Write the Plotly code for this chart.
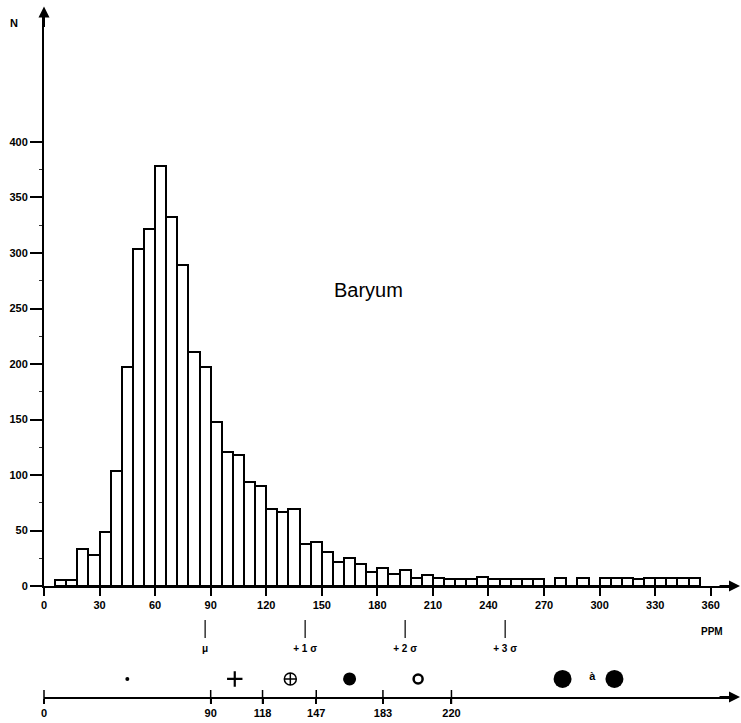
import plotly.graph_objects as go

# ---------------- data ----------------
bin_width = 6
bin_starts = [6, 12, 18, 24, 30, 36, 42, 48, 54, 60, 66, 72, 78, 84, 90, 96, 102, 108,
              114, 120, 126, 132, 138, 144, 150, 156, 162, 168, 174, 180, 186, 192, 198,
              204, 210, 216, 222, 228, 234, 240, 246, 252, 258, 264, 270, 276, 282, 288,
              294, 300, 306, 312, 318, 324, 330, 336, 342, 348]
counts = [5, 5, 33, 28, 49, 104, 197, 304, 322, 378, 332, 289, 211, 197, 148, 121, 118, 94,
          90, 69, 67, 69, 38, 40, 31, 22, 25, 20, 13, 16, 11, 14, 7,
          10, 7, 6, 6, 6, 8, 6, 6, 6, 6, 6, 0, 7, 0, 7,
          0, 7, 7, 7, 6, 7, 7, 7, 7, 7]

x_ticks = [0, 30, 60, 90, 120, 150, 180, 210, 240, 270, 300, 330, 360]
y_ticks = [0, 50, 100, 150, 200, 250, 300, 350, 400]
y_minor = [25, 75, 125, 175, 225, 275, 325, 375]

sigma_pos = [87, 141, 195, 249]
sigma_labels = ["μ", "+ 1 σ", "+ 2 σ", "+ 3 σ"]

class_bounds = [0, 90, 118, 147, 183, 220]
class_sym_x = [45, 103, 133, 165, 202, 280, 308]
class_symbols = ["circle", "cross-thin-open", "circle-cross-open", "circle",
                 "circle-open", "circle", "circle"]
class_sizes = [4, 11, 12, 13, 9, 18, 18]
class_line_w = [0, 2.2, 1.5, 0, 2.5, 0, 0]

FONT = "Liberation Sans, Arial, Helvetica, sans-serif"
XR = [0, 370.4]
INK = "#000"

fig = go.Figure()

# histogram bars
fig.add_trace(go.Bar(
    x=[s + bin_width / 2 for s in bin_starts], y=counts, width=bin_width,
    marker=dict(color="white", line=dict(color=INK, width=2)),
    xaxis="x", yaxis="y", showlegend=False, hoverinfo="skip"))

# sigma marks (bottom panel)
sx, sy = [], []
for p in sigma_pos:
    sx += [p, p, None]
    sy += [0.608, 0.794, None]
fig.add_trace(go.Scatter(x=sx, y=sy, mode="lines", line=dict(color=INK, width=1.2),
                         xaxis="x2", yaxis="y2", showlegend=False, hoverinfo="skip"))
fig.add_trace(go.Scatter(x=sigma_pos, y=[0.49] * len(sigma_pos), mode="text",
                         text=sigma_labels,
                         textfont=dict(family=FONT, size=10, color=INK, weight="bold"),
                         xaxis="x2", yaxis="y2", showlegend=False, hoverinfo="skip",
                         cliponaxis=False))

# class symbols
fig.add_trace(go.Scatter(
    x=class_sym_x, y=[0.186] * len(class_sym_x), mode="markers",
    marker=dict(symbol=class_symbols, size=class_sizes, color=INK, opacity=1,
                line=dict(color=INK, width=class_line_w)),
    opacity=1,
    xaxis="x2", yaxis="y2", showlegend=False, hoverinfo="skip", cliponaxis=False))
fig.add_trace(go.Scatter(x=[296], y=[0.2], mode="text", text=["à"],
                         textfont=dict(family=FONT, size=11, color=INK, weight="bold"),
                         xaxis="x2", yaxis="y2", showlegend=False, hoverinfo="skip",
                         cliponaxis=False))
# crossing ticks on the class scale
fig.add_trace(go.Scatter(
    x=class_bounds, y=[0] * len(class_bounds), mode="markers",
    marker=dict(symbol="line-ns", size=10, opacity=1, line=dict(color=INK, width=1.5)),
    xaxis="x2", yaxis="y2", showlegend=False, hoverinfo="skip", cliponaxis=False))

axis_font = dict(family=FONT, size=11, color=INK, weight="bold")

fig.update_layout(
    width=741, height=723,
    margin=dict(l=44, r=11, t=14, b=26, autoexpand=False),
    paper_bgcolor="white", plot_bgcolor="white",
    bargap=0,
    xaxis=dict(domain=[0, 1], range=XR, anchor="y", showgrid=False, zeroline=False,
               showline=True, linecolor=INK, linewidth=2, automargin=False,
               tickmode="array", tickvals=x_ticks, ticks="outside", ticklen=8,
               tickwidth=1.5, tickcolor=INK, tickfont=axis_font),
    yaxis=dict(domain=[0.1625, 1], range=[0, 515.3], anchor="x", showgrid=False,
               zeroline=False, showline=True, linecolor=INK, linewidth=2, automargin=False,
               tickmode="array", tickvals=y_ticks, ticks="outside", ticklen=12,
               tickwidth=1.5, tickcolor=INK, tickfont=axis_font,
               minor=dict(tickmode="array", tickvals=y_minor, ticks="outside",
                          ticklen=3, tickwidth=1, tickcolor="#333")),
    xaxis2=dict(domain=[0, 1], range=XR, anchor="y2", showgrid=False, zeroline=False,
                showline=True, linecolor=INK, linewidth=2, automargin=False,
                tickmode="array", tickvals=class_bounds, ticks="outside", ticklen=5,
                tickwidth=1.5, tickcolor=INK, tickfont=axis_font),
    yaxis2=dict(domain=[0, 0.142], range=[0, 1], anchor="x2", visible=False),
    annotations=[
        dict(text="Baryum", x=175, y=267, xref="x", yref="y", showarrow=False,
             font=dict(family=FONT, size=20, color=INK)),
        dict(text="<b>N</b>", x=-0.0437, y=0.987, xref="paper", yref="paper",
             xanchor="center", yanchor="middle",
             showarrow=False, font=dict(family=FONT, size=11, color=INK)),
        dict(text="<b>PPM</b>", x=360.7, y=0.68, xref="x2", yref="y2",
             showarrow=False, font=dict(family=FONT, size=10, color=INK)),
        # axis arrowheads
        dict(text="", x=0, y=1.011, xref="paper", yref="paper", ax=0, ay=22,
             showarrow=True, arrowhead=2, arrowsize=1.1, arrowwidth=2, arrowcolor=INK),
        dict(text="", x=1.0146, y=0.1625, xref="paper", yref="paper", ax=-22, ay=0,
             showarrow=True, arrowhead=2, arrowsize=1.1, arrowwidth=2, arrowcolor=INK),
        dict(text="", x=1.0146, y=0, xref="paper", yref="paper", ax=-22, ay=0,
             showarrow=True, arrowhead=2, arrowsize=1.1, arrowwidth=2, arrowcolor=INK),
    ],
)

fig.write_html("out.html")
